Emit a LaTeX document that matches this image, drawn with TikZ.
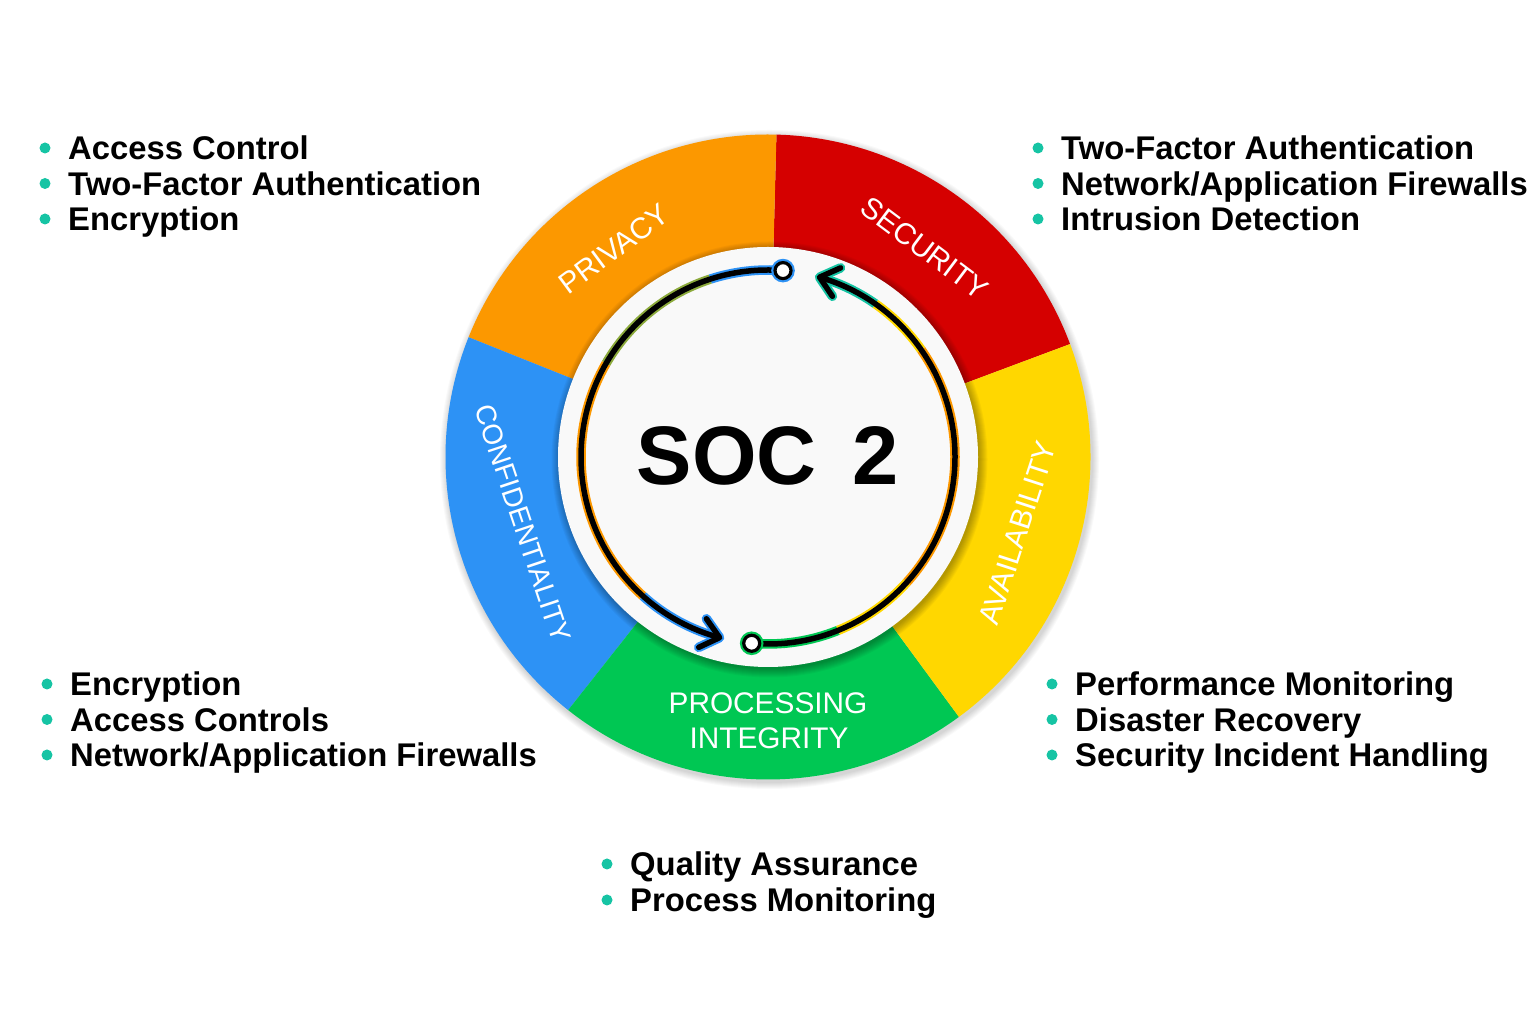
\documentclass[tikz,border=0pt]{standalone}
\usepackage{fontspec}
\setmainfont{Liberation Sans}
\usetikzlibrary{calc}
\definecolor{cPriv}{RGB}{252,152,0}
\definecolor{cSec}{RGB}{213,0,0}
\definecolor{cAvail}{RGB}{255,215,0}
\definecolor{cProc}{RGB}{0,199,83}
\definecolor{cConf}{RGB}{45,146,245}
\definecolor{cTeal}{RGB}{22,196,164}
\definecolor{cDisk}{RGB}{249,249,249}
\definecolor{cOlive}{RGB}{140,170,60}
\newcommand\myhalo[3]{\draw[halo,#3] ([shift={(#1:187pt)}]c) arc[start angle=#1, end angle=#2, radius=187pt];}
\begin{document}
\begin{tikzpicture}[x=1pt,y=1pt,
  item/.style={anchor=base west, inner sep=0pt, font=\fontsize{32.8}{36}\selectfont\bfseries},
  dot/.style={circle, fill=cTeal, minimum size=11pt, inner sep=0pt},
  ringlbl/.style={text=white, font=\fontsize{29.8}{33}\selectfont, inner sep=0pt},
  halo/.style={line width=9.5pt},
  core/.style={line width=5.5pt, black},
  chev/.style={line width=5.5pt, black, line cap=round, line join=round},
  chevhalo/.style={line width=9.5pt, line cap=round, line join=round},
  endpt/.style={circle, fill=white, draw=black, line width=3.2pt, minimum size=16pt, inner sep=0pt},
]
\fill[white] (0,0) rectangle (1536,1024);
\useasboundingbox (0,0) rectangle (1536,1024);
\coordinate (c) at (768,567);

% outer ring shadow
\foreach \k in {1,...,7}{
  \fill[black, opacity=0.025] ($(c)+(1.5,-2.5)$) circle[radius=322.5pt+\k pt];
}
% ring sectors
\fill[cSec]   (c) -- ++(20.5:322.5pt)  arc[start angle=20.5,  end angle=88.5,  radius=322.5pt] -- cycle;
\fill[cPriv]  (c) -- ++(88.5:322.5pt)  arc[start angle=88.5,  end angle=158.2, radius=322.5pt] -- cycle;
\fill[cConf]  (c) -- ++(158.2:322.5pt) arc[start angle=158.2, end angle=231.7, radius=322.5pt] -- cycle;
\fill[cProc]  (c) -- ++(231.7:322.5pt) arc[start angle=231.7, end angle=306.3, radius=322.5pt] -- cycle;
\fill[cAvail] (c) -- ++(306.3:322.5pt) arc[start angle=306.3, end angle=380.5, radius=322.5pt] -- cycle;

% inner disk shadow
\foreach \k in {1,...,9}{
  \fill[black, opacity=0.035] ($(c)+(1.5,-2.5)$) circle[radius=209pt+\k pt];
}
\fill[cDisk] (c) circle[radius=210pt];

% ring labels
\node[ringlbl, rotate=36.5]  (lpriv)  at ($(c)+(126.5:259pt)$) {PRIVACY};
\node[ringlbl, rotate=-36.9] (lsec)   at ($(c)+(53.1:261pt)$)  {SECURITY};
\node[ringlbl, rotate=-71.5, font=\fontsize{28}{33}\selectfont] (lconf) at ($(c)+(195.2:254pt)$) {CONFIDENTIALITY};
\node[ringlbl, rotate=72]    (lavail) at ($(c)+(-16.9:261pt)$) {AVAILABILITY};
\node[ringlbl] (lproc1) at (768,321) {PROCESSING};
\node[ringlbl] (lproc2) at (769,286) {INTEGRITY};

% center title
\node[anchor=base west, inner sep=0pt, font=\fontsize{83}{90}\selectfont\bfseries] (soc) at (636.5,539) {SOC\hspace{36pt}2};

% cycle arrows
\coordinate (s1) at ($(c)+(85.4:187pt)$);
\coordinate (t1) at ($(c)+(255:187pt)$);
\coordinate (s2) at ($(c)+(265:187pt)$);
\coordinate (t2) at ($(c)+(434:187pt)$);
% halos arc 1
\myhalo{85.4}{108}{cConf}
\myhalo{108}{150}{cOlive}
\myhalo{150}{228}{cPriv}
\myhalo{228}{255}{cConf}
% halos arc 2
\myhalo{265}{292}{cProc}
\myhalo{292}{318}{cAvail}
\myhalo{318}{395}{cPriv}
\myhalo{395}{415}{cAvail}
\myhalo{415}{434}{cTeal}
% chevron halos
\draw[chevhalo, cConf] ($(t1)+(125:23pt)$) -- (t1) -- ($(t1)+(205:23pt)$);
\draw[chevhalo, cTeal] ($(t2)+(24:23pt)$) -- (t2) -- ($(t2)+(304:23pt)$);
% black arcs
\draw[core] (s1) arc[start angle=85.4, end angle=255, radius=187pt];
\draw[core] (s2) arc[start angle=265, end angle=434, radius=187pt];
\draw[chev] ($(t1)+(125:23pt)$) -- (t1) -- ($(t1)+(205:23pt)$);
\draw[chev] ($(t2)+(24:23pt)$) -- (t2) -- ($(t2)+(304:23pt)$);
% endpoint circles
\node[endpt, preaction={draw=cConf, line width=7.5pt}] (e1) at (s1) {};
\node[endpt, preaction={draw=cProc, line width=7.5pt}] (e2) at (s2) {};

% lists
% top left
\node[dot] (d1) at (45,876) {};
\node[dot] (d2) at (45,840.5) {};
\node[dot] (d3) at (45,805) {};
\node[item] (t11) at (68,864) {Access Control};
\node[item] (t12) at (68,828.5) {Two-Factor Authentication};
\node[item] (t13) at (68,793) {Encryption};
% top right
\node[dot] (d4) at (1038,876) {};
\node[dot] (d5) at (1038,840.5) {};
\node[dot] (d6) at (1038,805) {};
\node[item] (t21) at (1061,864) {Two-Factor Authentication};
\node[item] (t22) at (1061,828.5) {Network/Application Firewalls};
\node[item] (t23) at (1061,793) {Intrusion Detection};
% bottom left
\node[dot] (d7) at (47,340) {};
\node[dot] (d8) at (47,304.5) {};
\node[dot] (d9) at (47,269) {};
\node[item] (t31) at (70,328) {Encryption};
\node[item] (t32) at (70,292.5) {Access Controls};
\node[item] (t33) at (70,257) {Network/Application Firewalls};
% bottom right
\node[dot] (d10) at (1052,340) {};
\node[dot] (d11) at (1052,304.5) {};
\node[dot] (d12) at (1052,269) {};
\node[item] (t41) at (1075,328) {Performance Monitoring};
\node[item] (t42) at (1075,292.5) {Disaster Recovery};
\node[item] (t43) at (1075,257) {Security Incident Handling};
% bottom
\node[dot] (d13) at (607,160) {};
\node[dot] (d14) at (607,124) {};
\node[item] (t51) at (630,148) {Quality Assurance};
\node[item] (t52) at (630,112) {Process Monitoring};
\end{tikzpicture}
\end{document}
